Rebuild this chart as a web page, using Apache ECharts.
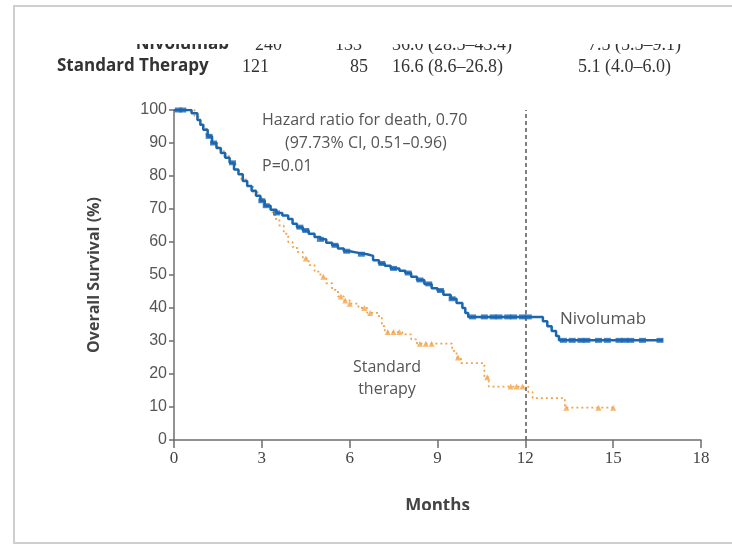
<!DOCTYPE html>
<html><head><meta charset="utf-8">
<script src="https://cdn.jsdelivr.net/npm/echarts@6/dist/echarts.min.js"></script>
<style>html,body{margin:0;padding:0;background:#fff}#c{width:732px;height:547px}</style>
</head><body><div id="c"></div>
<script>
// Kaplan-Meier steps: [month, overall survival %]
var nivoSteps = [[0,100],[0.5,100],[0.6,99],[0.8,97],[0.9,95.5],[1.0,94],[1.15,92],[1.3,90],[1.45,88.5],[1.6,87],[1.75,85.5],[1.9,84],[2.05,82],[2.2,80.5],[2.35,78.5],[2.5,77],[2.65,75.5],[2.8,74],[2.95,72.5],[3.1,71],[3.3,69.8],[3.5,68.8],[3.7,68],[3.9,67],[4.05,65.5],[4.2,64.5],[4.4,63.5],[4.6,62.5],[4.8,61.5],[5.0,60.8],[5.2,59.8],[5.4,59],[5.6,58],[5.8,57.2],[6.0,56.7],[6.3,56.3],[6.6,55.8],[6.8,54.5],[7.0,53.5],[7.2,52.8],[7.4,52],[7.7,51.3],[7.9,50.6],[8.1,49.5],[8.3,48.5],[8.55,47.3],[8.8,46],[9.0,45.3],[9.2,44],[9.45,42.8],[9.65,41.5],[9.85,40],[9.95,38.5],[10.05,37.3],[12.5,37.3],[12.6,36],[12.75,34.5],[12.9,33],[13.05,31.5],[13.15,30.2],[16.7,30.2]];
var stdSteps = [[0,100],[0.5,100],[0.7,98],[0.9,95],[1.1,92.5],[1.3,90],[1.5,88],[1.7,86],[1.9,84],[2.1,81.5],[2.3,79],[2.5,77],[2.7,75],[2.9,73],[3.1,71],[3.3,69],[3.45,67],[3.6,65],[3.75,62.5],[3.9,60],[4.05,58.5],[4.2,57],[4.4,55],[4.6,53],[4.8,51],[5.0,49.5],[5.2,47.5],[5.4,45.5],[5.6,43.5],[5.8,42.3],[6.0,41.3],[6.3,40],[6.6,38.5],[7.0,37],[7.1,34.5],[7.2,32.7],[7.8,32],[8.1,30.5],[8.3,29.2],[9.5,27],[9.65,25],[9.8,23.3],[10.6,19],[10.75,16.2],[12.1,14.5],[12.25,12.7],[13.35,9.8],[15.05,9.8]];
// censoring times (months)
var nivoCensor = [0.15,0.3,1.2,1.35,2.0,3.0,3.15,3.5,4.3,4.5,5.0,5.5,5.9,6.4,7.1,7.5,8.0,8.4,8.7,9.1,9.5,10.2,10.6,10.9,11.1,11.4,11.6,11.9,12.1,13.3,13.6,13.9,14.1,14.5,14.8,15.2,15.4,15.6,16.0,16.6];
var stdCensor = [3.0,4.5,5.1,5.7,5.85,6.0,6.5,6.7,7.3,7.5,7.7,8.4,8.6,8.8,9.7,10.7,11.5,11.7,11.9,13.4,14.5,15.0];
var xTicks = [0,3,6,9,12,15,18];

function survAt(steps, t){var v=steps[0][1];for(var i=0;i<steps.length;i++){if(steps[i][0]<=t)v=steps[i][1];}return v;}
var nivoC = nivoCensor.map(function(t){return [t,survAt(nivoSteps,t)];});
var stdC = stdCensor.map(function(t){return [t,survAt(stdSteps,t)];});

var BLUE='#1a67b0', ORANGE='#f2a44c', TXT='#555', AX='#6e6e6e';
var chart = echarts.init(document.getElementById('c'));
chart.setOption({
  backgroundColor:'#fff',
  animation:false,
  grid:{left:174,right:31,top:110,bottom:107},
  xAxis:{type:'value',min:0,max:18,interval:3,
    name:'Months',nameLocation:'middle',nameGap:58,
    nameTextStyle:{fontFamily:'Open Sans',fontWeight:'bold',fontSize:17,color:'#444'},
    axisLine:{lineStyle:{color:AX,width:1.5}},
    axisTick:{show:true,length:8,inside:false,lineStyle:{color:AX,width:1.5}},
    axisLabel:{fontFamily:'Liberation Serif',fontSize:17,color:'#444',margin:10,
      formatter:function(v){return xTicks.indexOf(v)>=0?String(v):'';}},
    splitLine:{show:false}},
  yAxis:{type:'value',min:0,max:100,interval:10,
    name:'Overall Survival (%)',nameLocation:'middle',nameGap:72,
    nameTextStyle:{fontFamily:'Open Sans',fontWeight:'bold',fontSize:16,color:'#444'},
    axisLine:{show:true,lineStyle:{color:AX,width:1.5}},
    axisTick:{show:true,length:5,lineStyle:{color:AX,width:1.5}},
    axisLabel:{fontFamily:'Liberation Sans',fontSize:16,color:'#555',margin:7},
    splitLine:{show:false}},
  series:[
    {type:'line',data:stdSteps,step:'end',symbol:'none',z:2,
     lineStyle:{color:ORANGE,width:1.8,type:[2,3]}},
    {type:'scatter',data:stdC,symbol:'triangle',symbolSize:6,z:3,itemStyle:{color:ORANGE}},
    {type:'line',data:nivoSteps,step:'end',symbol:'none',z:4,
     lineStyle:{color:BLUE,width:2.5},
     markLine:{silent:true,symbol:'none',label:{show:false},
       lineStyle:{color:'#555',type:[4,3],width:1.5},data:[{xAxis:12}]}},
    {type:'scatter',data:nivoC,symbol:'rect',symbolSize:[7,5],z:5,itemStyle:{color:BLUE}}
  ],
  graphic:[
    {type:'text',left:262,top:112,style:{text:'Hazard ratio for death, 0.70',fontFamily:'Open Sans',fontSize:16,fill:TXT}},
    {type:'text',left:285,top:135,style:{text:'(97.73% CI, 0.51\u20130.96)',fontFamily:'Open Sans',fontSize:16,fill:TXT}},
    {type:'text',left:262,top:158,style:{text:'P=0.01',fontFamily:'Open Sans',fontSize:16,fill:TXT}},
    {type:'text',left:560,top:311,style:{text:'Nivolumab',fontFamily:'Open Sans',fontSize:17,fill:TXT}},
    {type:'text',x:387,y:356,style:{text:'Standard\ntherapy',align:'center',verticalAlign:'top',fontFamily:'Open Sans',fontSize:16,lineHeight:22,fill:TXT}},
    // table rows
    {type:'text',right:503,top:36,style:{text:'Nivolumab',fontFamily:'Open Sans',fontWeight:'bold',fontSize:17,fill:'#333'}},
    {type:'text',left:255,top:36,style:{text:'240',fontFamily:'Liberation Serif',fontSize:18,fill:'#333'}},
    {type:'text',left:335,top:36,style:{text:'133',fontFamily:'Liberation Serif',fontSize:18,fill:'#333'}},
    {type:'text',left:392,top:36,style:{text:'36.0 (28.5\u201343.4)',fontFamily:'Liberation Serif',fontSize:18,fill:'#333'}},
    {type:'text',left:588,top:36,style:{text:'7.5 (5.5\u20139.1)',fontFamily:'Liberation Serif',fontSize:18,fill:'#333'}},
    {type:'rect',shape:{x:0,y:0,width:732,height:44},style:{fill:'#fff'},z:50},
    {type:'text',left:57,top:58,style:{text:'Standard Therapy',fontFamily:'Open Sans',fontWeight:'bold',fontSize:17,fill:'#333'},z:60},
    {type:'text',left:242,top:58,style:{text:'121',fontFamily:'Liberation Serif',fontSize:18,fill:'#333'},z:60},
    {type:'text',left:350,top:58,style:{text:'85',fontFamily:'Liberation Serif',fontSize:18,fill:'#333'},z:60},
    {type:'text',left:392,top:58,style:{text:'16.6 (8.6\u201326.8)',fontFamily:'Liberation Serif',fontSize:18,fill:'#333'},z:60},
    {type:'text',left:578,top:58,style:{text:'5.1 (4.0\u20136.0)',fontFamily:'Liberation Serif',fontSize:18,fill:'#333'},z:60},
    {type:'rect',shape:{x:0,y:510,width:732,height:37},style:{fill:'#fff'},z:50},
    {type:'rect',shape:{x:14,y:6,width:730,height:537},style:{fill:'none',stroke:'#cfcfcf',lineWidth:2},z:70}
  ]
});
</script></body></html>
